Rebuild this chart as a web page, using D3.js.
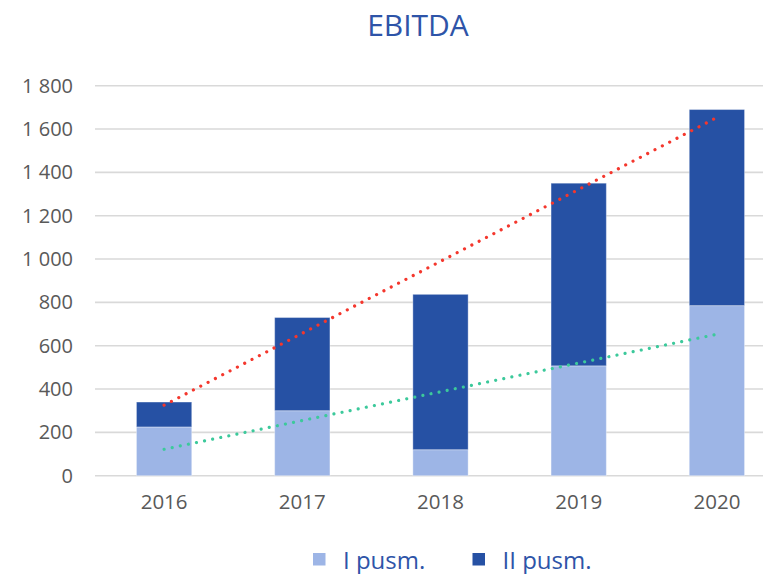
<!DOCTYPE html>
<html lang="en">
<head>
    <meta charset="UTF-8">
    <title>EBITDA</title>
    <script src="https://d3js.org/d3.v7.min.js"></script>
    <style>
        html, body {
            margin: 0;
            background: #fff;
            font-family: "Open Sans", sans-serif;
        }
        svg { display: block; }
    </style>
</head>
<body>
    <div id="vis"></div>
    <script>
        // chart data
        var years = ["2016", "2017", "2018", "2019", "2020"];
        var firstHalf = [225, 300, 120, 507, 785];
        var secondHalf = [115, 430, 717, 843, 905];
        var yTicks = [0, 200, 400, 600, 800, 1000, 1200, 1400, 1600, 1800];
        var seriesNames = ["I pusm.", "II pusm."];

        var W = 763, H = 574;
        var plot = {left: 95, right: 786, top: 85.7, bottom: 475.7};

        var colours = {light: "#9db5e6", dark: "#2651a4", red: "#f4372d", green: "#3cc99b", text: "#595959", title: "#2e54a8", grid: "#d9d9d9"};

        var svg = d3.select("#vis").append("svg")
            .attr("width", W)
            .attr("height", H);

        var x = d3.scaleBand()
            .domain(years)
            .range([plot.left, plot.right])
            .paddingInner(0.6)
            .paddingOuter(0.3);

        var y = d3.scaleLinear()
            .domain([0, 1800])
            .range([plot.bottom, plot.top]);

        // gridlines
        svg.append("g")
            .selectAll("line")
            .data(yTicks)
            .enter().append("line")
            .attr("x1", plot.left)
            .attr("x2", W)
            .attr("y1", function(d){ return y(d); })
            .attr("y2", function(d){ return y(d); })
            .attr("stroke", colours.grid)
            .attr("stroke-width", 1.6);

        // y axis labels
        var fmt = d3.formatLocale({decimal: ",", thousands: "\u00a0", grouping: [3], currency: ["", ""]}).format(",");
        var yAxis = d3.axisLeft(y).tickValues(yTicks).tickSize(0).tickPadding(0).tickFormat(fmt);
        var gy = svg.append("g")
            .attr("transform", "translate(73,0)")
            .call(yAxis);
        gy.select(".domain").remove();
        gy.selectAll("text")
            .attr("font-family", "Open Sans, sans-serif")
            .attr("font-size", 20)
            .attr("fill", colours.text);

        // x axis labels
        var xAxis = d3.axisBottom(x).tickSize(0).tickPadding(0);
        var gx = svg.append("g")
            .attr("transform", "translate(0,494)")
            .call(xAxis);
        gx.select(".domain").remove();
        gx.selectAll("text")
            .attr("font-family", "Open Sans, sans-serif")
            .attr("font-size", 20.5)
            .attr("fill", colours.text);

        // stacked bars
        var rows = years.map(function(yr, i){ return {year: yr, a: firstHalf[i], b: secondHalf[i]}; });
        var stack = d3.stack().keys(["a", "b"])(rows);
        var fills = [colours.light, colours.dark];

        svg.append("g")
            .selectAll("g")
            .data(stack)
            .enter().append("g")
            .attr("fill", function(d, i){ return fills[i]; })
            .selectAll("rect")
            .data(function(d){ return d; })
            .enter().append("rect")
            .attr("x", function(d){ return x(d.data.year); })
            .attr("width", x.bandwidth())
            .attr("y", function(d){ return y(d[1]); })
            .attr("height", function(d){ return y(d[0]) - y(d[1]); })
            .attr("stroke", "rgba(255,255,255,0.35)")
            .attr("stroke-width", 1);

        // linear trendlines (least squares), total and first half
        function trend(vals) {
            var n = vals.length;
            var mx = d3.mean(vals, function(v, i){ return i; });
            var my = d3.mean(vals);
            var num = d3.sum(vals, function(v, i){ return (i - mx) * (v - my); });
            var den = d3.sum(vals, function(v, i){ return (i - mx) * (i - mx); });
            var slope = num / den;
            return [0, n - 1].map(function(i){ return {i: i, v: my + slope * (i - mx)}; });
        }
        var totals = firstHalf.map(function(v, i){ return v + secondHalf[i]; });
        var line = d3.line()
            .x(function(d){ return x(years[d.i]) + x.bandwidth() / 2; })
            .y(function(d){ return y(d.v); });

        [[totals, colours.red], [firstHalf, colours.green]].forEach(function(t){
            svg.append("path")
                .datum(trend(t[0]))
                .attr("d", line)
                .attr("fill", "none")
                .attr("stroke", t[1])
                .attr("stroke-width", 3.2)
                .attr("stroke-linecap", "round")
                .attr("stroke-dasharray", "0.01 8.25");
        });

        // title
        svg.append("text")
            .attr("x", 418)
            .attr("y", 36)
            .attr("text-anchor", "middle")
            .attr("font-size", 30)
            .attr("fill", colours.title)
            .text("EBITDA");

        // legend
        var legendX = [313, 472.5];
        var leg = svg.append("g")
            .selectAll("g")
            .data(seriesNames)
            .enter().append("g")
            .attr("transform", function(d, i){ return "translate(" + legendX[i] + ",0)"; });
        leg.append("rect")
            .attr("y", 553)
            .attr("width", 12.5)
            .attr("height", 12.5)
            .attr("fill", function(d, i){ return fills[i]; });
        leg.append("text")
            .attr("x", 30)
            .attr("y", 569)
            .attr("font-size", 24)
            .attr("fill", colours.title)
            .text(function(d){ return d; });
    </script>
</body>
</html>
